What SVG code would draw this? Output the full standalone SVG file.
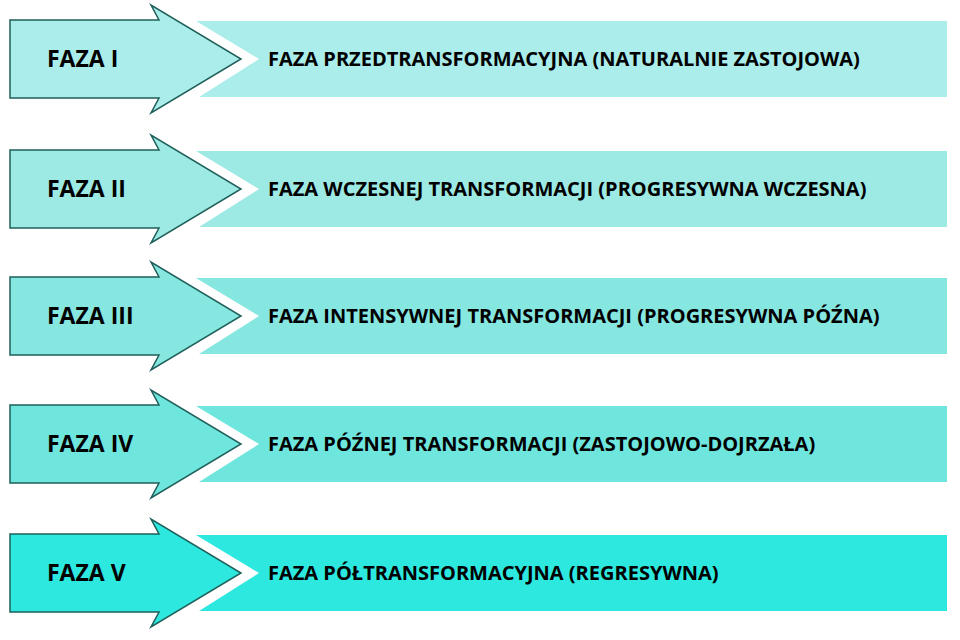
<svg xmlns="http://www.w3.org/2000/svg" width="960" height="640" viewBox="0 0 960 640">
<defs>
<style>
.arrow{stroke:#1f5f5a;stroke-width:1.5;stroke-linejoin:miter}
.lab{font-family:"Open Sans","Liberation Sans",sans-serif;font-weight:bold;font-size:23px;fill:#000}
.txt{font-family:"Open Sans","Liberation Sans",sans-serif;font-weight:bold;font-size:20px;fill:#000}
</style>
</defs>
<rect width="960" height="640" fill="#ffffff"/>
<g id="row1" transform="translate(0,59)">
<polygon points="196,-38 947,-38 947,38 199,38 259,0" fill="#aaedeb"/>
<polygon class="arrow" points="10,-39 159,-39 151,-54 241,0 151,54 159,39 10,39" fill="#aaedeb"/>
<text class="lab" x="47" y="8">FAZA I</text>
<text class="txt" x="268" y="7">FAZA PRZEDTRANSFORMACYJNA (NATURALNIE ZASTOJOWA)</text>
</g>
<g id="row2" transform="translate(0,189)">
<polygon points="196,-38 947,-38 947,38 199,38 259,0" fill="#9de9e4"/>
<polygon class="arrow" points="10,-39 159,-39 151,-54 241,0 151,54 159,39 10,39" fill="#9de9e4"/>
<text class="lab" x="47" y="8">FAZA II</text>
<text class="txt" x="268" y="7">FAZA WCZESNEJ TRANSFORMACJI (PROGRESYWNA WCZESNA)</text>
</g>
<g id="row3" transform="translate(0,316)">
<polygon points="196,-38 947,-38 947,38 199,38 259,0" fill="#86e6e0"/>
<polygon class="arrow" points="10,-39 159,-39 151,-54 241,0 151,54 159,39 10,39" fill="#86e6e0"/>
<text class="lab" x="47" y="8">FAZA III</text>
<text class="txt" x="268" y="7">FAZA INTENSYWNEJ TRANSFORMACJI (PROGRESYWNA PÓŹNA)</text>
</g>
<g id="row4" transform="translate(0,444)">
<polygon points="196,-38 947,-38 947,38 199,38 259,0" fill="#6ee6de"/>
<polygon class="arrow" points="10,-39 159,-39 151,-54 241,0 151,54 159,39 10,39" fill="#6ee6de"/>
<text class="lab" x="47" y="8">FAZA IV</text>
<text class="txt" x="268" y="7">FAZA PÓŹNEJ TRANSFORMACJI (ZASTOJOWO-DOJRZAŁA)</text>
</g>
<g id="row5" transform="translate(0,573)">
<polygon points="196,-38 947,-38 947,38 199,38 259,0" fill="#2de8df"/>
<polygon class="arrow" points="10,-39 159,-39 151,-54 241,0 151,54 159,39 10,39" fill="#2de8df"/>
<text class="lab" x="47" y="8">FAZA V</text>
<text class="txt" x="268" y="7">FAZA PÓŁTRANSFORMACYJNA (REGRESYWNA)</text>
</g>
<g id="connectors"/>
</svg>
